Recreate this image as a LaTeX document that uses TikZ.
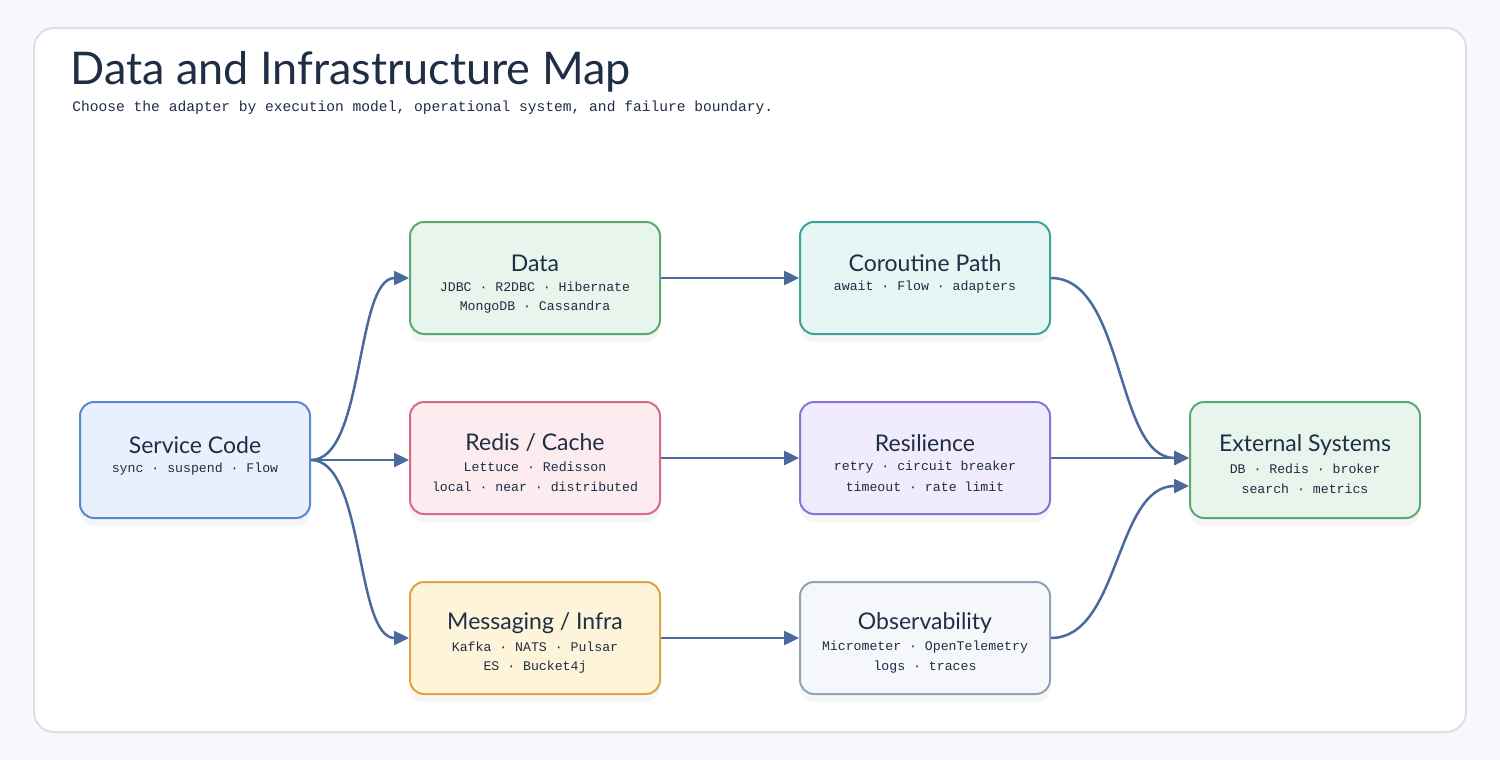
\documentclass[tikz,border=0pt]{standalone}
\usepackage{fontspec}
\setmainfont{Lato}
\newfontfamily\monof{Liberation Mono}
\usetikzlibrary{arrows.meta,shadows}
\definecolor{bgc}{HTML}{F7F8FC}
\definecolor{cardb}{HTML}{D9E0EA}
\definecolor{ink}{HTML}{1F2D45}
\definecolor{wire}{HTML}{4A6A9E}
\definecolor{bluef}{HTML}{E8F0FD}\definecolor{blued}{HTML}{5B86D6}
\definecolor{greenf}{HTML}{E8F5EC}\definecolor{greend}{HTML}{5AAA72}
\definecolor{redf}{HTML}{FCEBEF}\definecolor{redd}{HTML}{DB6B83}
\definecolor{yelf}{HTML}{FEF4D9}\definecolor{yeld}{HTML}{DDA43F}
\definecolor{tealf}{HTML}{E6F6F4}\definecolor{teald}{HTML}{3AA39B}
\definecolor{purf}{HTML}{F0EBFD}\definecolor{purd}{HTML}{8B74D6}
\definecolor{grayf}{HTML}{F5F7FA}\definecolor{grayd}{HTML}{8FA3B9}
\tikzset{
  box/.style={draw, line width=1pt, rounded corners=7pt, minimum width=125pt, minimum height=56pt,
    inner sep=0pt,
    drop shadow={opacity=0.06, shadow xshift=0pt, shadow yshift=-4pt, fill=black!60}},
  wide/.style={minimum width=115pt, minimum height=58pt},
  btitle/.style={text=ink, inner sep=0pt, font=\fontsize{11.5}{13}\selectfont},
  bdet/.style={text=ink, inner sep=0pt, font=\monof\fontsize{6.6}{8}\selectfont},
  conn/.style={draw=wire, line width=1.25pt, -{Triangle[length=7.5pt,width=7pt]}},
}
% box with title at -15px and detail lines at +9px and +29px
\newcommand{\mkbox}[7]{%
  \node[box, #2, fill=#3, draw=#4] (#1) at #5 {};
  \node[btitle] (#1-t) at ([yshift=7.5pt]#1.center) {#6};
  #7}
\begin{document}
\begin{tikzpicture}[x=0.5pt,y=-0.5pt]
\fill[bgc] (0,0) rectangle (1500,760);
\useasboundingbox (0,0) rectangle (1500,760);
\draw[cardb, fill=white, line width=1pt, rounded corners=10pt] (34,28) rectangle (1466,732);
\node[anchor=base west, text=ink, inner sep=0pt] (title) at (70,84) {\fontsize{22.5}{26}\selectfont Data and Infrastructure Map};
\node[anchor=west, text=ink, inner sep=0pt] (sub) at (72,108) {\monof\fontsize{7.3}{9}\selectfont Choose the adapter by execution model, operational system, and failure boundary.};

\mkbox{svc}{wide}{bluef}{blued}{(195,460)}{Service Code}{%
  \node[bdet] (svc-a) at ([yshift=-4.5pt]svc.center) {sync · suspend · Flow};}
\mkbox{data}{}{greenf}{greend}{(535,278)}{Data}{%
  \node[bdet] (data-a) at ([yshift=-4.5pt]data.center) {JDBC · R2DBC · Hibernate};
  \node[bdet] (data-b) at ([yshift=-14.5pt]data.center) {MongoDB · Cassandra};}
\mkbox{redis}{}{redf}{redd}{(535,458)}{Redis / Cache}{%
  \node[bdet] (redis-a) at ([yshift=-4.5pt]redis.center) {Lettuce · Redisson};
  \node[bdet] (redis-b) at ([yshift=-14.5pt]redis.center) {local · near · distributed};}
\mkbox{msg}{}{yelf}{yeld}{(535,638)}{Messaging / Infra}{%
  \node[bdet] (msg-a) at ([yshift=-4.5pt]msg.center) {Kafka · NATS · Pulsar};
  \node[bdet] (msg-b) at ([yshift=-14.5pt]msg.center) {ES · Bucket4j};}
\mkbox{cor}{}{tealf}{teald}{(925,278)}{Coroutine Path}{%
  \node[bdet] (cor-a) at ([yshift=-4.5pt]cor.center) {await · Flow · adapters};}
\mkbox{res}{}{purf}{purd}{(925,458)}{Resilience}{%
  \node[bdet] (res-a) at ([yshift=-4.5pt]res.center) {retry · circuit breaker};
  \node[bdet] (res-b) at ([yshift=-14.5pt]res.center) {timeout · rate limit};}
\mkbox{obs}{}{grayf}{grayd}{(925,638)}{Observability}{%
  \node[bdet] (obs-a) at ([yshift=-4.5pt]obs.center) {Micrometer · OpenTelemetry};
  \node[bdet] (obs-b) at ([yshift=-14.5pt]obs.center) {logs · traces};}
\mkbox{ext}{wide}{greenf}{greend}{(1305,460)}{External Systems}{%
  \node[bdet] (ext-a) at ([yshift=-4.5pt]ext.center) {DB · Redis · broker};
  \node[bdet] (ext-b) at ([yshift=-14.5pt]ext.center) {search · metrics};}

\draw[conn] (svc.east) .. controls (365,460) and (355,278) .. (data.west);
\draw[conn] (svc.east) -- (redis.west |- svc.east);
\draw[conn] (svc.east) .. controls (365,460) and (355,638) .. (msg.west);
\draw[conn] (data.east) -- (cor.west);
\draw[conn] (redis.east) -- (res.west);
\draw[conn] (msg.east) -- (obs.west);
\draw[conn] (cor.east) .. controls (1125,278) and (1115,458) .. (ext.west |- res.east);
\draw[conn] (res.east) -- (ext.west |- res.east);
\draw[conn] (obs.east) .. controls (1120,638) and (1115,486) .. ([yshift=-13pt]ext.west);
\end{tikzpicture}
\end{document}
